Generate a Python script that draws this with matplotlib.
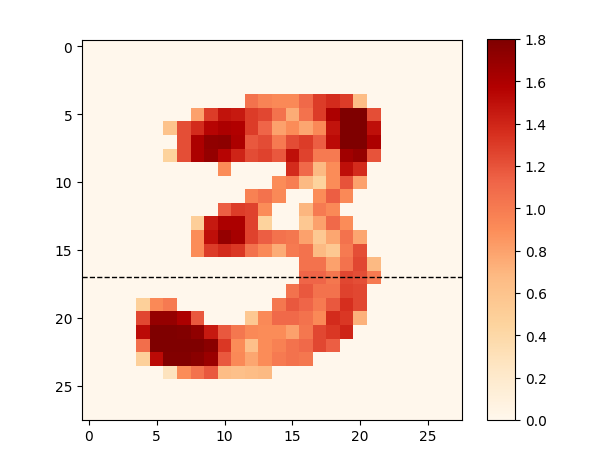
import numpy as np
import matplotlib
matplotlib.use('Agg')
import matplotlib.pyplot as plt

# nonzero pixels of the 28x28 digit: row -> (first column, values)
row_start = {
    4: 12, 5: 8, 6: 6, 7: 7, 8: 6, 9: 10, 10: 14, 11: 12, 12: 10,
    13: 8, 14: 8, 15: 8, 16: 16, 17: 16, 18: 15, 19: 4, 20: 4,
    21: 4, 22: 4, 23: 4, 24: 6,
}
row_vals = {
    4: [1.05, 0.95, 0.92, 0.92, 1.1, 1.3, 1.37, 1.3, 0.65],
    5: [0.8, 1.3, 1.48, 1.45, 1.3, 1.25, 1.05, 0.75, 1.05, 1.3, 1.6, 1.8, 1.8, 1.22],
    6: [0.6, 1.22, 1.37, 1.55, 1.6, 1.58, 1.3, 1.12, 0.8, 0.9, 0.78, 0.92, 1.48, 1.8, 1.8, 1.5],
    7: [1.22, 1.6, 1.72, 1.73, 1.6, 1.18, 1.23, 1.0, 1.23, 1.3, 1.15, 1.52, 1.8, 1.8, 1.6],
    8: [0.45, 1.22, 1.6, 1.7, 1.55, 1.4, 1.23, 1.27, 1.18, 1.5, 1.27, 1.0, 1.0, 1.65, 1.7, 1.2],
    9: [0.9, 0, 0, 0, 0, 1.37, 1.1, 0.68, 0.9, 1.5, 1.37],
    10: [0.9, 0.98, 0.68, 0.45, 0.9, 1.2, 0.8],
    11: [0.97, 1.05, 0.92, 0, 0, 0.9, 1.15, 0.92],
    12: [1.15, 1.3, 1.27, 0.9, 0, 0, 0.7, 1.0, 0.92],
    13: [0.5, 1.45, 1.6, 1.6, 1.27, 0.45, 0, 0, 0.55, 0.8, 1.1, 0.9],
    14: [0.9, 1.5, 1.7, 1.63, 1.27, 1.15, 1.05, 1.02, 0.8, 0.55, 0.78, 1.05, 0.78],
    15: [0.9, 1.3, 1.37, 1.32, 1.05, 0.92, 0.75, 1.0, 1.05, 0.68, 0.55, 1.0, 1.22],
    16: [1.05, 1.05, 0.8, 1.05, 1.25, 0.68],
    17: [1.12, 1.12, 1.02, 1.25, 1.22, 1.0],
    18: [1.05, 1.18, 1.05, 1.05, 1.27, 1.25],
    19: [0.48, 0.92, 1.0, 0, 0, 0, 0, 0, 0, 0, 1.02, 1.18, 1.12, 1.0, 1.18, 1.35, 1.25],
    20: [1.25, 1.7, 1.7, 1.6, 1.18, 0, 0, 0, 0.55, 0.92, 1.1, 1.1, 1.05, 0.92, 1.37, 1.32, 0.72],
    21: [1.52, 1.8, 1.8, 1.78, 1.72, 1.45, 1.18, 1.02, 0.92, 0.9, 0.9, 0.8, 1.02, 1.25, 1.32, 1.4],
    22: [1.07, 1.8, 1.8, 1.8, 1.8, 1.75, 1.32, 0.9, 0.62, 0.9, 0.97, 1.05, 1.1, 1.25, 1.15],
    23: [0.48, 1.52, 1.78, 1.78, 1.75, 1.68, 1.18, 0.92, 0.78, 0.9, 1.0, 1.05, 1.02],
    24: [0.28, 0.9, 1.05, 1.18, 0.65, 0.62, 0.65, 0.68],
}
cut_row = 17

img = np.zeros((28, 28))
for r, c0 in row_start.items():
    v = row_vals[r]
    img[r, c0:c0 + len(v)] = v

fig = plt.figure(figsize=(5.98, 4.64), dpi=100)
ax = fig.add_axes([82 / 598, 43 / 464, 380 / 598, 381 / 464])
cax = fig.add_axes([487 / 598, 43 / 464, 28 / 598, 381 / 464])

im = ax.imshow(img, cmap='OrRd', vmin=0, vmax=1.8)
ax.axhline(cut_row, color='k', linestyle='--', linewidth=1)
ax.set_xticks(np.arange(0, 28, 5))
ax.set_yticks(np.arange(0, 28, 5))

cb = fig.colorbar(im, cax=cax)
cb.set_ticks(np.arange(0, 1.81, 0.2))

plt.savefig('out.png', dpi=100)
